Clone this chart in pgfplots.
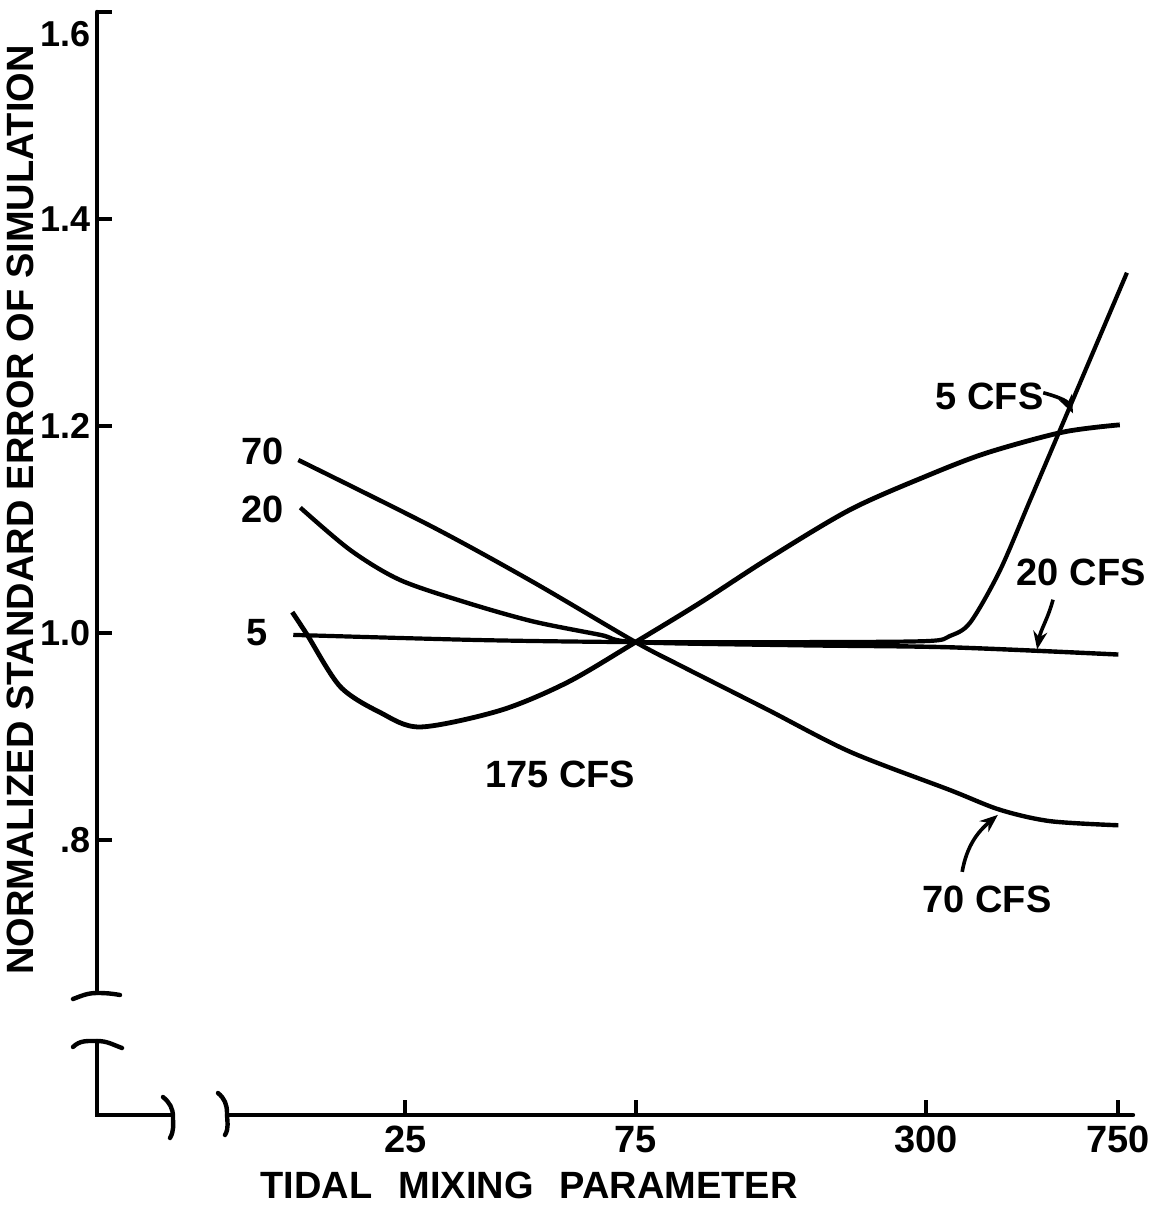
\documentclass[border=0pt]{standalone}
\usepackage{fontspec}
\setmainfont{Liberation Sans}
\usepackage{pgfplots}
\pgfplotsset{compat=1.18}
\usetikzlibrary{arrows.meta}

\newcommand{\lab}{\fontsize{19}{22}\selectfont\bfseries}

\begin{document}
\begin{tikzpicture}
\begin{axis}[
    at={(0,0)}, anchor=south west,
    scale only axis,
    width=518pt, height=551.5pt,
    xmode=log, xmin=5.75, xmax=804,
    ymin=0.534, ymax=1.6,
    clip=false,
    axis lines=left,
    axis line style={draw=none},
    xtick={25,75,300,750}, xticklabels={25,75,300,750},
    ytick={0.8,1.0,1.2,1.4},
    yticklabels={.8,1.0,1.2,1.4},
    extra y ticks={1.6}, extra y tick labels={1.6},
    extra y tick style={yticklabel style={yshift=-11pt}},
    minor tick num=0,
    tick align=inside,
    major tick length=7.5pt,
    tick style={line width=2pt, black},
    /pgf/number format/assume math mode=true,
    tick label style={font=\lab},
    xticklabel style={yshift=-2pt},
    yticklabel style={font=\fontsize{18}{21}\selectfont\bfseries, inner xsep=0pt, xshift=-3pt},
    xlabel={TIDAL\hspace{13pt}MIXING\hspace{13pt}PARAMETER},
    ylabel={NORMALIZED STANDARD ERROR OF SIMULATION},
    label style={font=\lab},
    xlabel style={at={(axis description cs:0.417,0)}, anchor=center, yshift=-35pt},
    ylabel style={at={(axis description cs:-0.061,0.5485)}, anchor=south, inner sep=0pt},
]

% 5 CFS
\addplot[smooth, line width=2.1pt] coordinates {
    (14.66,0.998) (35.7,0.993) (75,0.991) (164,0.991) (300,0.992)
    (336,0.997) (370,1.010) (426,1.060) (492,1.128) (576,1.203)
    (781,1.348)
};
% 20 CFS
\addplot[smooth, line width=2.2pt] coordinates {
    (15.16,1.121) (19.24,1.080) (24.41,1.051) (33.6,1.029) (46.0,1.011)
    (63.4,0.998) (75,0.991) (164,0.988) (336,0.986) (750,0.979)
};
% 70 CFS
\addplot[smooth, line width=2.2pt] coordinates {
    (15.02,1.167) (28.58,1.102) (46.03,1.049) (75,0.991) (94.1,0.967)
    (140.4,0.926) (208.6,0.885) (336,0.848) (426,0.829) (541,0.818)
    (750,0.814)
};
% 175 CFS
\addplot[smooth, line width=2.4pt] coordinates {
    (14.59,1.020) (15.67,0.998) (18.34,0.948) (22.19,0.923) (26.86,0.909)
    (39.33,0.925) (54.13,0.952) (75,0.991)
    (102,1.029) (140.4,1.071) (208.6,1.119) (302,1.152) (401,1.174)
    (576,1.194) (755,1.201)
};

\node[font=\lab] at (axis cs:12.65,1.175) {70};
\node[font=\lab] at (axis cs:12.65,1.119) {20};
\node[font=\lab] at (axis cs:12.35,1.000) {5};
\node[font=\lab] at (axis cs:52.4,0.863) {175 CFS};
\node[font=\lab] at (axis cs:406,1.228) {5 CFS};
\node[font=\lab] at (axis cs:628,1.058) {20 CFS};
\node[font=\lab] at (axis cs:401,0.742) {70 CFS};

\draw[line width=1.8pt, -{Stealth[length=9pt,width=7pt]}]
    (axis cs:524,1.232) to[out=-15,in=115] (axis cs:604,1.212);
\draw[line width=1.8pt, -{Stealth[length=9pt,width=7pt]}]
    (axis cs:549,1.032) to[out=-105,in=80] (axis cs:509,0.984);
\draw[line width=1.8pt, -{Stealth[length=9pt,width=7pt]}]
    (axis cs:356,0.769) to[out=80,in=-140] (axis cs:422,0.824);
\end{axis}

% broken axis lines
\draw[line width=2.2pt, line cap=round] (0,551.5pt) -- (0,61pt);
\draw[line width=2.2pt, line cap=round]
    (-12pt,58pt) to[out=20,in=180] (0,61pt) to[out=0,in=170] (11.5pt,60pt);
\draw[line width=2.2pt, line cap=round]
    (-12pt,34pt) to[out=45,in=180] (0,37pt) to[out=0,in=160] (12.5pt,33.5pt);
\draw[line width=2.2pt, line cap=round] (0,37pt) -- (0,0) -- (37pt,0);
\draw[line width=2.2pt, line cap=round]
    (33pt,9pt) to[out=-40,in=90] (38pt,-1pt) to[out=-90,in=60] (36.5pt,-11.5pt);
\draw[line width=2.2pt, line cap=round]
    (60.5pt,11pt) to[out=-40,in=90] (65pt,1pt) to[out=-90,in=60] (64pt,-10pt);
\draw[line width=2.2pt, line cap=round] (65pt,0) -- (518pt,0);

\pgfresetboundingbox
\path (-48.5pt,-50pt) rectangle (530pt,557.5pt);
\end{tikzpicture}
\end{document}
